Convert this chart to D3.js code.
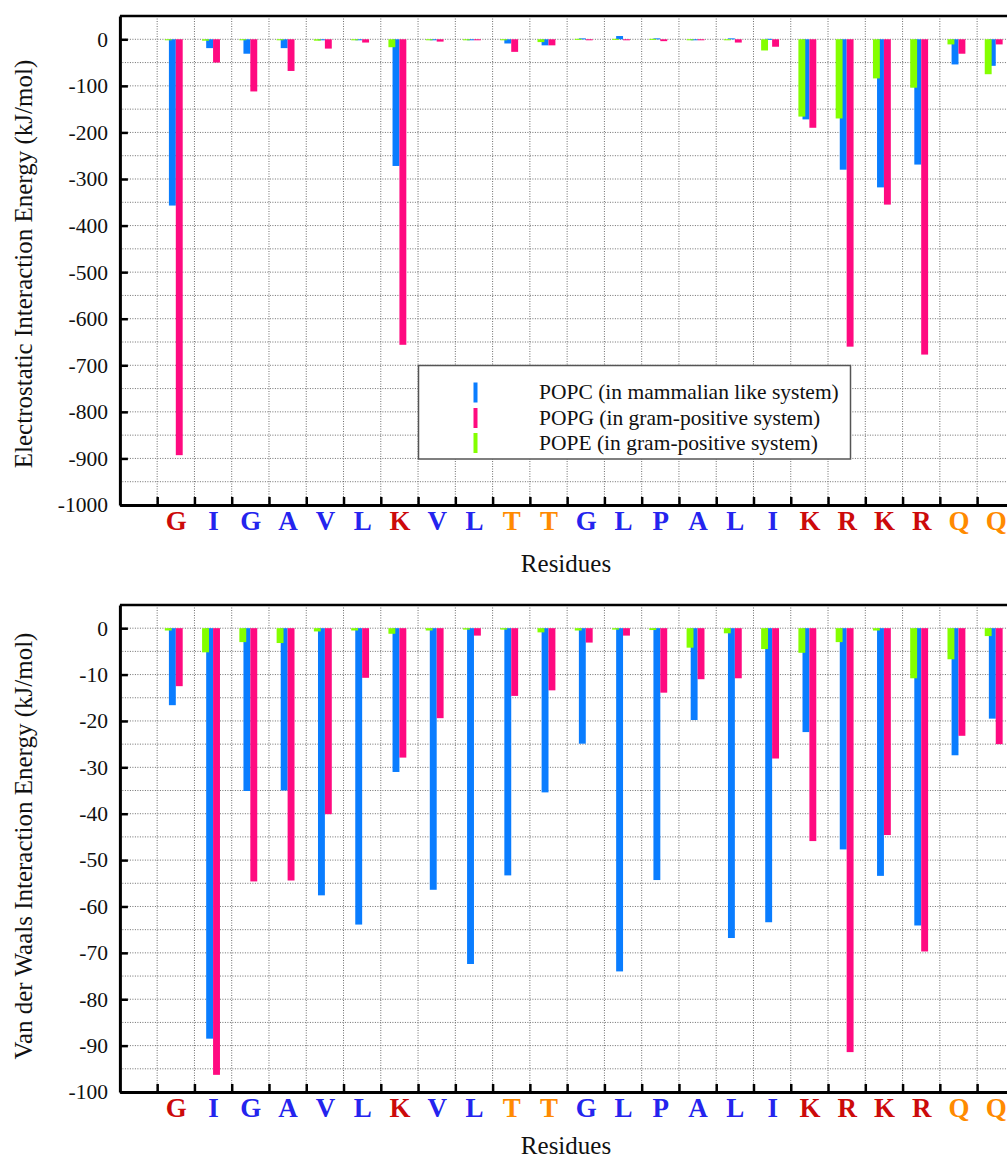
<!DOCTYPE html>
<html>
<head>
<meta charset="utf-8">
<script src="https://cdn.jsdelivr.net/npm/d3@7"></script>
<style>
  html, body { margin: 0; padding: 0; background: #fff; }
  svg { display: block; }
</style>
</head>
<body>
<svg id="chart" width="1007" height="1162"></svg>
<script>
// ---------------- data ----------------
const residues = ["G","I","G","A","V","L","K","V","L","T","T","G","L","P","A","L","I","K","R","K","R","Q","Q"];
const residueClass = ["charged","hydrophobic","hydrophobic","hydrophobic","hydrophobic","hydrophobic","charged","hydrophobic","hydrophobic","polar","polar","hydrophobic","hydrophobic","hydrophobic","hydrophobic","hydrophobic","hydrophobic","charged","charged","charged","charged","polar","polar"];

const seriesNames = ["POPC (in mammalian like system)", "POPG (in gram-positive system)", "POPE (in gram-positive system)"];

// Electrostatic interaction energy (kJ/mol)
const elecPOPC = [-357, -19, -31, -19, -2, -1, -272, -2, -2, -9, -13, 2, 7, 2, 0, 2, 1, -172, -280, -318, -269, -54, -57];
const elecPOPG = [-893, -50, -112, -68, -20, -7, -656, -5, -2, -27, -13, -2, -1, -4, -1, -7, -16, -190, -660, -355, -677, -31, -11];
const elecPOPE = [-2, -3, -2, -2, -3, -2, -17, -1, -1, -2, -6, 1, 1, 1, -1, -1, -24, -166, -170, -84, -104, -11, -75];

// Van der Waals interaction energy (kJ/mol)
const vdwPOPC = [-16.6, -88.5, -35.1, -35.0, -57.6, -63.9, -31.0, -56.4, -72.4, -53.3, -35.4, -24.9, -74.0, -54.3, -19.8, -66.8, -63.4, -22.4, -47.7, -53.4, -64.1, -27.4, -19.5];
const vdwPOPG = [-12.5, -96.3, -54.6, -54.4, -40.1, -10.7, -27.9, -19.4, -1.6, -14.6, -13.4, -3.1, -1.6, -13.9, -11.0, -10.8, -28.1, -45.9, -91.4, -44.6, -69.7, -23.2, -25.0];
const vdwPOPE = [-0.5, -5.2, -3.0, -3.2, -0.7, -0.5, -1.2, -0.5, -0.3, -0.3, -0.9, -0.5, -0.3, -0.4, -4.2, -1.1, -4.5, -5.3, -3.0, -0.5, -10.8, -6.7, -1.7];

const elecTicks = [0, -100, -200, -300, -400, -500, -600, -700, -800, -900, -1000];
const vdwTicks = [0, -10, -20, -30, -40, -50, -60, -70, -80, -90, -100];

// ---------------- styles ----------------
const seriesColors = ["#0a7dff", "#ff0a80", "#84ff00"];
const classColors = { charged: "#cc0a0a", hydrophobic: "#2424ee", polar: "#ff8a00" };
const serif = "Liberation Serif, Times New Roman, serif";

const svg = d3.select("#chart");
svg.append("rect").attr("width", 1007).attr("height", 1162).attr("fill", "#fff");

const slot = 37.27;
const x = d3.scaleLinear().domain([-1, 26]).range([119.9, 119.9 + 27 * slot]);
const barW = 0.185;
// order of drawing: POPC, POPG, then POPE (on top)
const offsets = [0.5 - barW, 0.5, 0.5 - barW - 0.11];

function panel(cfg) {
  const { y, top, bottom, series, ticks, gridStep, title, titleCY, residuesY, legend } = cfg;
  const g = svg.append("g");
  const xLeft = x(-1), xRight = 1100;

  // gridlines
  const [d0] = y.domain();
  const hVals = d3.range(0, d0 - 1e-9, -gridStep);
  g.append("g").selectAll("line").data(hVals).join("line")
    .attr("x1", xLeft).attr("x2", xRight)
    .attr("y1", d => y(d)).attr("y2", d => y(d))
    .attr("stroke", "#6e6e6e").attr("stroke-width", 1).attr("stroke-dasharray", "1,1.5");
  g.append("g").selectAll("line").data(d3.range(0, 26)).join("line")
    .attr("x1", d => x(d)).attr("x2", d => x(d))
    .attr("y1", top).attr("y2", bottom)
    .attr("stroke", "#6e6e6e").attr("stroke-width", 1).attr("stroke-dasharray", "1,1.5");

  // bars
  series.forEach((vals, si) => {
    g.append("g").selectAll("rect").data(vals).join("rect")
      .attr("x", (d, i) => x(i + offsets[si]))
      .attr("width", (d, i) => x(i + offsets[si] + barW) - x(i + offsets[si]))
      .attr("y", d => Math.min(y(d), y(0)))
      .attr("height", d => Math.max(1, Math.abs(y(d) - y(0))))
      .attr("fill", seriesColors[si]);
  });

  // legend
  if (legend) {
    const lg = g.append("g");
    lg.append("rect").attr("x", 418.5).attr("y", 365.5).attr("width", 432).attr("height", 93.5)
      .attr("fill", "#fff").attr("stroke", "#555").attr("stroke-width", 1.5);
    const rows = [0, 1, 2];
    const rowY = [392.5, 418, 443];
    lg.selectAll("rect.mk").data(rows).join("rect").attr("class", "mk")
      .attr("x", 473.5).attr("y", d => rowY[d] - 10).attr("width", 4).attr("height", 20)
      .attr("fill", d => seriesColors[d]);
    lg.selectAll("text").data(rows).join("text")
      .attr("x", 539).attr("y", d => rowY[d] + 6.5)
      .style("font-family", serif).style("font-size", "21.5px").attr("fill", "#111")
      .text(d => seriesNames[d]);
  }

  // frame top line
  g.append("line").attr("x1", xLeft).attr("x2", xRight).attr("y1", top).attr("y2", top)
    .attr("stroke", "#000").attr("stroke-width", 2.5);

  // y axis
  const ya = g.append("g").attr("transform", `translate(${xLeft},0)`)
    .call(d3.axisLeft(y).tickValues(ticks).tickSizeInner(-8).tickSizeOuter(0).tickPadding(12).tickFormat(d => String(d)));
  ya.attr("font-family", null).attr("font-size", null);
  ya.select(".domain").attr("stroke", "#000").attr("stroke-width", 3);
  ya.selectAll(".tick line").attr("stroke", "#000").attr("stroke-width", 2.5);
  ya.selectAll(".tick text").style("font-family", serif).style("font-size", "21.5px").attr("fill", "#111");

  // x axis (ticks at slot boundaries)
  const xa = g.append("g").attr("transform", `translate(0,${bottom})`)
    .call(d3.axisBottom(x).tickValues(d3.range(0, 26)).tickSizeInner(-8).tickSizeOuter(0).tickFormat(""));
  xa.select(".domain").attr("stroke", "#000").attr("stroke-width", 3);
  xa.selectAll(".tick line").attr("stroke", "#000").attr("stroke-width", 2.5);

  // residue labels
  const xl = g.append("g").attr("transform", `translate(0,${bottom})`)
    .call(d3.axisBottom(x).tickValues(d3.range(0, residues.length).map(i => i + 0.5))
      .tickSize(0).tickPadding(0).tickFormat((d, i) => residues[i]));
  xl.attr("font-family", null).attr("font-size", null);
  xl.select(".domain").remove();
  xl.selectAll(".tick text")
    .attr("y", residuesY - bottom).attr("dy", 0)
    .style("font-family", serif).style("font-size", "27px").style("font-weight", "bold")
    .attr("fill", (d, i) => classColors[residueClass[i]]);

  // titles
  g.append("text").attr("transform", `translate(23,${titleCY}) rotate(-90)`)
    .attr("text-anchor", "middle").attr("dominant-baseline", "central")
    .style("font-family", serif).style("font-size", "25px").attr("fill", "#111").text(title);
  g.append("text").attr("x", 566).attr("y", cfg.xTitleY)
    .attr("text-anchor", "middle").style("font-family", serif).style("font-size", "25px").attr("fill", "#111")
    .text("Residues");
}

panel({
  y: d3.scaleLinear().domain([-1000, 50]).range([505, 16]),
  top: 16, bottom: 505,
  series: [elecPOPC, elecPOPG, elecPOPE],
  ticks: elecTicks, gridStep: 50,
  title: "Electrostatic Interaction Energy (kJ/mol)", titleCY: 264,
  residuesY: 529.5, xTitleY: 572, legend: true
});

panel({
  y: d3.scaleLinear().domain([-100, 5]).range([1092, 605]),
  top: 605, bottom: 1092,
  series: [vdwPOPC, vdwPOPG, vdwPOPE],
  ticks: vdwTicks, gridStep: 5,
  title: "Van der Waals Interaction Energy (kJ/mol)", titleCY: 846,
  residuesY: 1117, xTitleY: 1154, legend: false
});
</script>
</body>
</html>
